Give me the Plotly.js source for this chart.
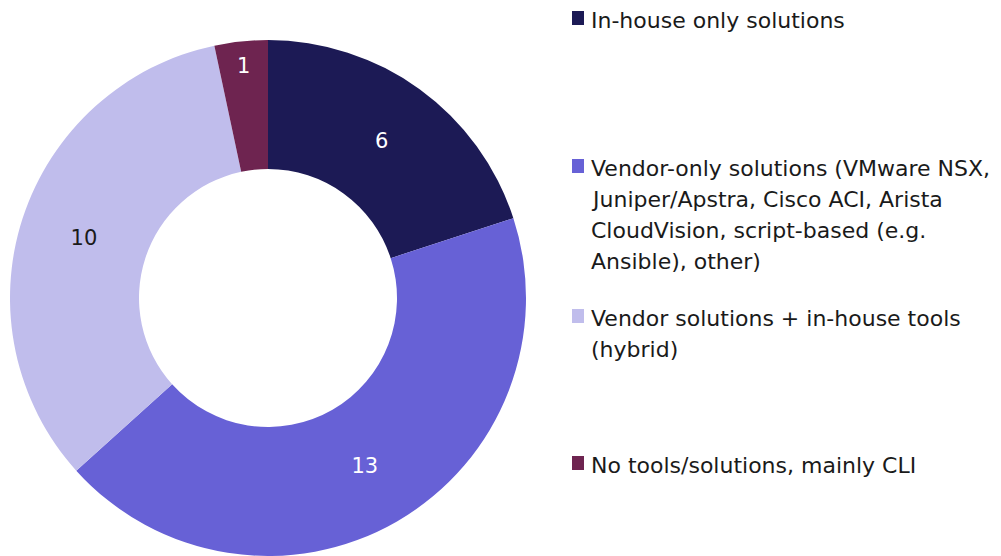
<!DOCTYPE html>
<html>
<head>
<meta charset="utf-8">
<script src="https://cdn.plot.ly/plotly-3.0.1.min.js"></script>
<style>html,body{margin:0;padding:0;background:#fff;}#chart{width:1001px;height:556px;}</style>
</head>
<body>
<div id="chart"></div>
<script>
const categories = [
  'In-house only solutions',
  'Vendor-only solutions (VMware NSX, Juniper/Apstra, Cisco ACI, Arista CloudVision, script-based (e.g. Ansible), other)',
  'Vendor solutions + in-house tools (hybrid)',
  'No tools/solutions, mainly CLI'
];
const legendLines = [
  ['In-house only solutions'],
  ['Vendor-only solutions (VMware NSX,', 'Juniper/Apstra, Cisco ACI, Arista', 'CloudVision, script-based (e.g.', 'Ansible), other)'],
  ['Vendor solutions + in-house tools', '(hybrid)'],
  ['No tools/solutions, mainly CLI']
];
const values = [6, 13, 10, 1];
const colors = ['#1c1a55', '#6761d6', '#c0bdec', '#6e2450'];
const textColors = ['#ffffff', '#ffffff', '#1a1a1a', '#ffffff'];

const W = 1001, H = 556;
const FONT = 'DejaVu Sans, Liberation Sans, Arial, sans-serif';

const trace = {
  type: 'pie',
  labels: categories,
  values: values,
  hole: 0.5,
  sort: false,
  direction: 'clockwise',
  rotation: 0,
  marker: {colors: colors, line: {width: 0}},
  textinfo: 'value',
  textposition: 'inside',
  insidetextorientation: 'horizontal',
  textfont: {family: FONT, size: 21, color: textColors},
  domain: {x: [10 / W, 526 / W], y: [0, 516 / H]},
  showlegend: false,
  hoverinfo: 'label+value'
};

// legend layout (pixel positions of first-line centers)
const itemTop = [18, 166, 316, 463];
const lineGap = 31;
const annotations = [];
const shapes = [];
legendLines.forEach((lines, i) => {
  shapes.push({
    type: 'rect', xref: 'paper', yref: 'paper',
    x0: 572 / W, x1: 584 / W,
    y0: 1 - (itemTop[i] + 7) / H, y1: 1 - (itemTop[i] - 7) / H,
    fillcolor: colors[i], line: {width: 0}
  });
  lines.forEach((t, j) => {
    annotations.push({
      text: t, xref: 'paper', yref: 'paper',
      x: 589 / W, y: 1 - (itemTop[i] + j * lineGap + 2) / H,
      xanchor: 'left', yanchor: 'middle', showarrow: false,
      font: {family: FONT, size: 22, color: '#1a1a1a'}
    });
  });
});

const layout = {
  width: W, height: H,
  margin: {l: 0, r: 0, t: 0, b: 0},
  paper_bgcolor: '#ffffff',
  plot_bgcolor: '#ffffff',
  showlegend: false,
  annotations: annotations,
  shapes: shapes
};

Plotly.newPlot('chart', [trace], layout, {displayModeBar: false, staticPlot: true});
</script>
</body>
</html>
